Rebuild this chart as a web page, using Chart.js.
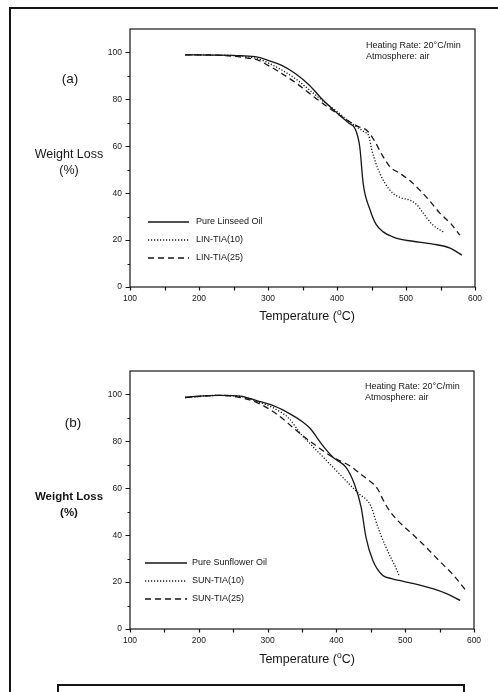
<!DOCTYPE html>
<html>
<head>
<meta charset="utf-8">
<script src="https://cdn.jsdelivr.net/npm/chart.js@4"></script>
<style>
  html, body { margin: 0; padding: 0; background: #fff; }
  body { width: 498px; height: 692px; position: relative; overflow: hidden; }
  .frame { position: absolute; left: 9px; top: 7px; width: 600px; height: 800px;
           border-left: 2px solid #151515; border-top: 2px solid #151515; }
  .note { position: absolute; left: 57px; top: 684px; width: 404px; height: 40px;
          border: 2px solid #151515; }
  .panel { position: absolute; left: 0; width: 498px; height: 346px; }
  canvas { display: block; }
</style>
</head>
<body>
<div class="frame"></div>
<div class="note"></div>
<div class="panel" style="top:0"><canvas id="chartA" width="498" height="346"></canvas></div>
<div class="panel" style="top:346px"><canvas id="chartB" width="498" height="346"></canvas></div>

<script>
// ---- data: TGA curves, temperature (°C) vs weight (%) ----
const xTicks = [100, 200, 300, 400, 500, 600];
const yTicks = [0, 20, 40, 60, 80, 100];

// (a) linseed oil series
const linPureT = [180, 220, 260, 285, 300, 320, 340, 360, 380, 400, 418, 426, 433, 438, 448, 456, 467, 480, 491, 510, 539, 564, 581];
const linPureW = [99, 98.9, 98.6, 98, 96.6, 94.5, 90.9, 86, 79.6, 74.2, 69.7, 67.6, 59.7, 44, 32.8, 27, 23.5, 21.5, 20.4, 19.5, 18.3, 16.6, 13.6];
const lin10T = [180, 220, 260, 285, 300, 320, 340, 360, 380, 400, 420, 440, 446, 450, 456, 462, 470, 481, 493, 506, 516, 525, 539, 554];
const lin10W = [99, 98.9, 98.5, 97.3, 95.6, 92.5, 88.8, 84, 79.2, 74.8, 70, 66, 64.5, 59, 53, 48.5, 44, 40, 38, 37, 35, 31.5, 26.4, 23.5];
const lin25T = [180, 220, 250, 270, 284, 300, 313, 342, 370, 390, 410, 430, 443, 455, 465, 477, 491, 505, 520, 535, 549, 565, 578];
const lin25W = [99, 98.9, 98.4, 97.6, 96.9, 94.5, 92.3, 86.7, 80.3, 76, 72, 68.5, 66.8, 62, 56.5, 51.2, 48.5, 45.5, 41.3, 36.5, 31.5, 27, 22.1];

// (b) sunflower oil series
const sunPureT = [180, 200, 230, 260, 285, 310, 335, 350, 362, 372, 378, 395, 414, 426, 436, 443, 453, 467, 480, 491, 510, 540, 560, 580];
const sunPureW = [98.7, 99.3, 99.6, 99.3, 97.3, 95, 91.3, 88.5, 85.5, 81.5, 79, 73.2, 68.9, 61.9, 51.9, 39.1, 29.2, 22.9, 21.5, 20.7, 19.5, 17.2, 15.1, 12.2];
const sun10T = [180, 230, 260, 285, 310, 332, 346, 365, 380, 395, 418, 433, 447, 452, 457, 464, 472, 479, 486, 491];
const sun10W = [98.7, 99.6, 99.2, 97, 94, 89.5, 84, 78, 73.5, 69, 62, 57.6, 54, 51, 46.3, 40.5, 34.9, 30.5, 26.4, 22.9];
const sun25T = [180, 230, 255, 284, 313, 342, 370, 395, 420, 440, 453, 460, 468, 477, 490, 510, 530, 549, 570, 588];
const sun25W = [98.7, 99.6, 99, 96.6, 91.7, 84.6, 78.2, 73.2, 69.5, 65, 62, 59.7, 55, 50.5, 46, 40.6, 35, 29.2, 23, 16.5];

const FONT = '"Liberation Sans", Arial, Helvetica, sans-serif';
const INK = '#161616';

const pts = (t, w) => t.map((v, i) => ({ x: v, y: w[i] }));

function series(label, t, w, dash) {
  return {
    label, data: pts(t, w), borderColor: INK, borderWidth: 1.3, borderDash: dash,
    pointRadius: 0, fill: false, cubicInterpolationMode: 'monotone'
  };
}

const DOT = [1.2, 1.8];
const DASH = [6, 4];

// frame, minor ticks, titles, annotation and line legend
const decor = {
  id: 'decor',
  afterDraw(chart, args, o) {
    const { ctx, chartArea: a, scales: { x, y } } = chart;
    ctx.save();
    ctx.strokeStyle = INK;
    ctx.lineWidth = 1.2;
    ctx.setLineDash([]);
    ctx.strokeRect(a.left, a.top, a.right - a.left, a.bottom - a.top);

    ctx.beginPath();
    for (let v = 0; v <= 100; v += 10) {
      const py = Math.round(y.getPixelForValue(v)) + 0.5;
      const len = v % 20 === 0 ? 4.5 : 2.5;
      ctx.moveTo(a.left - len, py); ctx.lineTo(a.left, py);
    }
    for (let v = 100; v <= 600; v += 50) {
      const px = Math.round(x.getPixelForValue(v)) + 0.5;
      ctx.moveTo(px, a.bottom); ctx.lineTo(px, a.bottom + 3.5);
    }
    ctx.stroke();

    ctx.fillStyle = INK;
    ctx.textAlign = 'center';
    ctx.textBaseline = 'middle';

    // panel letter
    ctx.font = `13.5px ${FONT}`;
    ctx.fillText(o.letter, o.letterX, o.letterY);

    // y-axis title
    ctx.font = `${o.sideBold ? 'bold 11.5px' : '12.5px'} ${FONT}`;
    ctx.fillText('Weight Loss', o.sideX, o.sideY);
    ctx.fillText('(%)', o.sideX, o.sideY + 15.5);

    // x-axis title with superscript o
    const big = `12.5px ${FONT}`, small = `8.5px ${FONT}`;
    const p1 = 'Temperature (', p2 = 'o', p3 = 'C)';
    ctx.font = big;
    const w1 = ctx.measureText(p1).width, w3 = ctx.measureText(p3).width;
    ctx.font = small;
    const w2 = ctx.measureText(p2).width;
    let x0 = o.xTitleX - (w1 + w2 + w3) / 2;
    ctx.textAlign = 'left';
    ctx.font = big; ctx.fillText(p1, x0, o.xTitleY);
    ctx.font = small; ctx.fillText(p2, x0 + w1, o.xTitleY - 4);
    ctx.font = big; ctx.fillText(p3, x0 + w1 + w2, o.xTitleY);

    // conditions
    ctx.font = `9px ${FONT}`;
    ctx.fillText('Heating Rate: 20\u00B0C/min', o.noteX, o.noteY);
    ctx.fillText('Atmosphere: air', o.noteX, o.noteY + 11);

    // legend
    chart.data.datasets.forEach((ds, i) => {
      const ly = o.legY + i * 18;
      ctx.beginPath();
      ctx.lineWidth = 1.3;
      ctx.setLineDash(ds.borderDash || []);
      ctx.moveTo(o.legX0, ly); ctx.lineTo(o.legX1, ly);
      ctx.stroke();
      ctx.setLineDash([]);
      ctx.font = `9px ${FONT}`;
      ctx.fillText(ds.label, o.legTextX, ly);
    });
    ctx.restore();
  }
};

function makeChart(id, datasets, pad, deco) {
  const tickFont = { family: FONT, size: 8.5 };
  return new Chart(document.getElementById(id), {
    type: 'line',
    data: { datasets },
    plugins: [decor],
    options: {
      responsive: false,
      animation: false,
      layout: { padding: pad },
      plugins: { legend: { display: false }, tooltip: { enabled: false }, decor: deco },
      scales: {
        x: {
          type: 'linear', min: 100, max: 600,
          afterFit: s => { s.height = 20; },
          afterBuildTicks: s => { s.ticks = xTicks.map(v => ({ value: v })); },
          grid: { display: false, drawTicks: false },
          border: { display: false },
          ticks: { padding: 7, font: tickFont, color: INK, maxRotation: 0, autoSkip: false }
        },
        y: {
          type: 'linear', min: 0, max: 110,
          afterFit: s => { s.width = 130; },
          afterBuildTicks: s => { s.ticks = yTicks.map(v => ({ value: v })); },
          grid: { display: false, drawTicks: false },
          border: { display: false },
          ticks: { padding: 8, font: tickFont, color: INK, autoSkip: false }
        }
      }
    }
  });
}

makeChart('chartA', [
  series('Pure Linseed Oil', linPureT, linPureW, []),
  series('LIN-TIA(10)', lin10T, lin10W, DOT),
  series('LIN-TIA(25)', lin25T, lin25W, DASH)
], { left: 0, right: 23, top: 29, bottom: 39 }, {
  letter: '(a)', letterX: 70, letterY: 79,
  sideX: 69, sideY: 155, sideBold: false,
  xTitleX: 307, xTitleY: 317,
  noteX: 366, noteY: 46,
  legX0: 148, legX1: 189, legTextX: 196, legY: 222
});

makeChart('chartB', [
  series('Pure Sunflower Oil', sunPureT, sunPureW, []),
  series('SUN-TIA(10)', sun10T, sun10W, DOT),
  series('SUN-TIA(25)', sun25T, sun25W, DASH)
], { left: 0, right: 24, top: 25, bottom: 43 }, {
  letter: '(b)', letterX: 73, letterY: 77,
  sideX: 69, sideY: 151, sideBold: true,
  xTitleX: 307, xTitleY: 314,
  noteX: 365, noteY: 41,
  legX0: 145, legX1: 187, legTextX: 192, legY: 217
});
</script>
</body>
</html>
